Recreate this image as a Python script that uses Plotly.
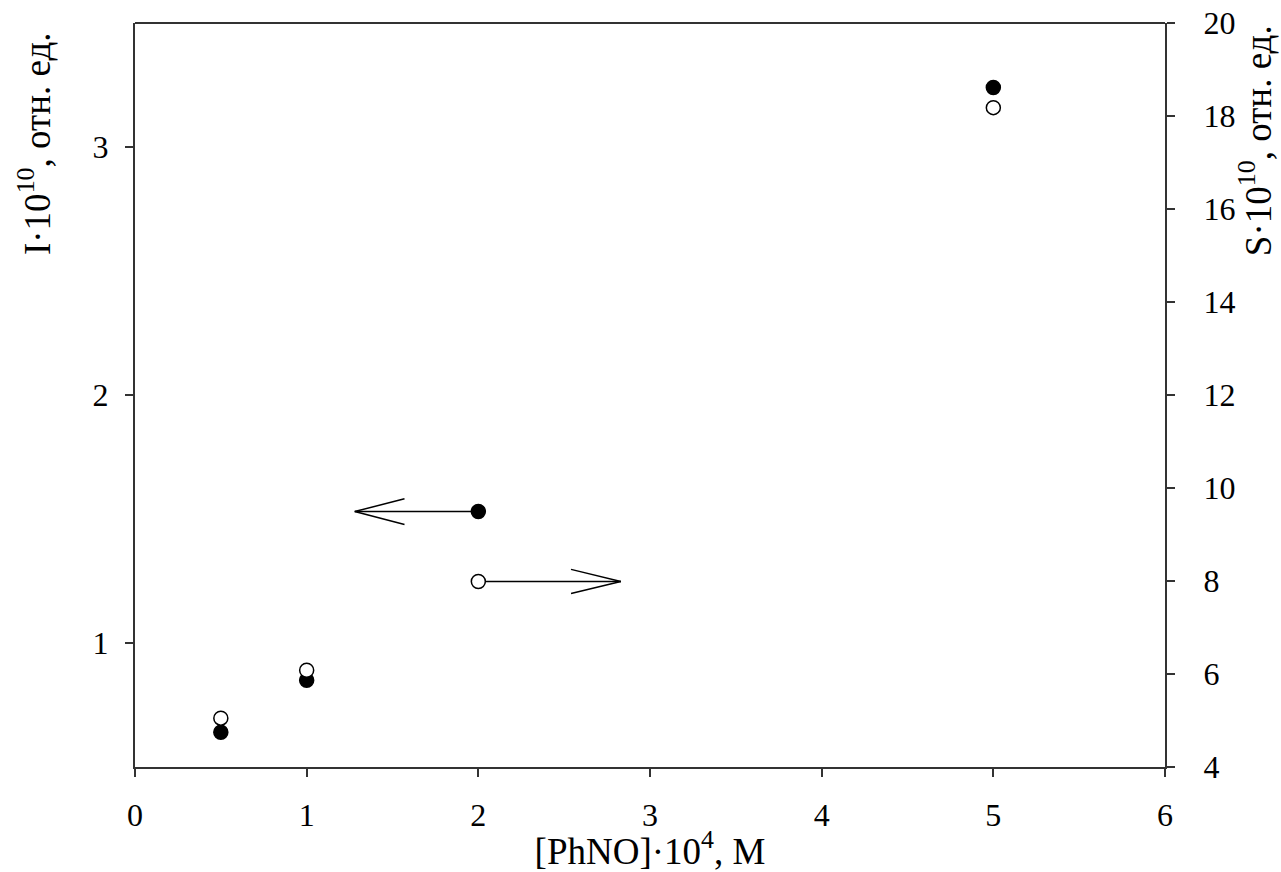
import plotly.graph_objects as go

# PhNO concentration, x10^4 M
conc = [0.5, 1, 2, 5]
# Intensity I x10^10 (left axis, filled markers)
intensity = [0.64, 0.85, 1.53, 3.24]
# Integral S x10^10 (right axis, open markers)
integral = [5.05, 6.08, 7.99, 18.18]

# Arrows pointing from the x=2 points towards their axes
arrow_from_x = 2
arrow_to_left = 1.28
arrow_to_right = 2.83

FONT = "Liberation Serif"
TICK_SIZE = 32
TITLE_SIZE = 37
AX = dict(showline=True, linecolor="#333", linewidth=2, ticks="outside",
          ticklen=8, tickwidth=1.5, tickcolor="#333", showgrid=False,
          zeroline=False, automargin=False,
          tickfont=dict(family=FONT, size=TICK_SIZE, color="black"))

fig = go.Figure()
fig.add_trace(go.Scatter(x=conc, y=intensity, mode="markers", yaxis="y",
                         marker=dict(size=14, color="black",
                                     line=dict(color="black", width=1.5)),
                         showlegend=False))
fig.add_trace(go.Scatter(x=conc, y=integral, mode="markers", yaxis="y2",
                         marker=dict(size=14, color="white",
                                     line=dict(color="black", width=1.5)),
                         showlegend=False))

shapes = []
# left-pointing arrow from the filled point at x=2
y_l = intensity[conc.index(arrow_from_x)]
head_dx, head_dy_l = 0.29, 0.052
shapes.append(dict(type="line", xref="x", yref="y", x0=arrow_from_x, x1=arrow_to_left,
                   y0=y_l, y1=y_l, line=dict(color="black", width=1.5), layer="below"))
for s in (1, -1):
    shapes.append(dict(type="line", xref="x", yref="y", x0=arrow_to_left,
                       x1=arrow_to_left + head_dx, y0=y_l, y1=y_l + s * head_dy_l,
                       line=dict(color="black", width=1.5)))
# right-pointing arrow from the open point at x=2
y_r = integral[conc.index(arrow_from_x)]
head_dy_r = 0.26
shapes.append(dict(type="line", xref="x", yref="y2", x0=arrow_from_x, x1=arrow_to_right,
                   y0=y_r, y1=y_r, line=dict(color="black", width=1.5), layer="below"))
for s in (1, -1):
    shapes.append(dict(type="line", xref="x", yref="y2", x0=arrow_to_right,
                       x1=arrow_to_right - head_dx, y0=y_r, y1=y_r + s * head_dy_r,
                       line=dict(color="black", width=1.5)))
# top frame line
shapes.append(dict(type="line", xref="paper", yref="paper", x0=0, x1=1, y0=1, y1=1,
                   line=dict(color="#333", width=2)))

fig.update_layout(
    width=1281, height=872,
    margin=dict(l=135, r=116, t=23, b=105),
    plot_bgcolor="white", paper_bgcolor="white",
    xaxis=dict(AX, range=[0, 6], tickvals=[0, 1, 2, 3, 4, 5, 6],
               ticklabelstandoff=11,
               title=dict(text="[PhNO]·10<sup>4</sup>, M",
                          font=dict(family=FONT, size=TITLE_SIZE, color="black"),
                          standoff=4)),
    yaxis=dict(AX, range=[0.5, 3.5], tickvals=[1, 2, 3], ticklabelstandoff=10),
    yaxis2=dict(AX, range=[4, 20], tickvals=list(range(4, 21, 2)), overlaying="y",
                side="right", ticklabelstandoff=22),
    shapes=shapes,
    annotations=[
        dict(text="I·10<sup>10</sup>, отн. ед.", xref="paper", yref="paper",
             x=-0.097, y=0.99, xanchor="center", yanchor="top", textangle=-90,
             showarrow=False, font=dict(family=FONT, size=TITLE_SIZE, color="black")),
        dict(text="S·10<sup>10</sup>, отн. ед.", xref="paper", yref="paper",
             x=1.088, y=1.0, xanchor="center", yanchor="top", textangle=-90,
             showarrow=False, font=dict(family=FONT, size=TITLE_SIZE, color="black")),
    ],
)

fig.write_html("out.html")
